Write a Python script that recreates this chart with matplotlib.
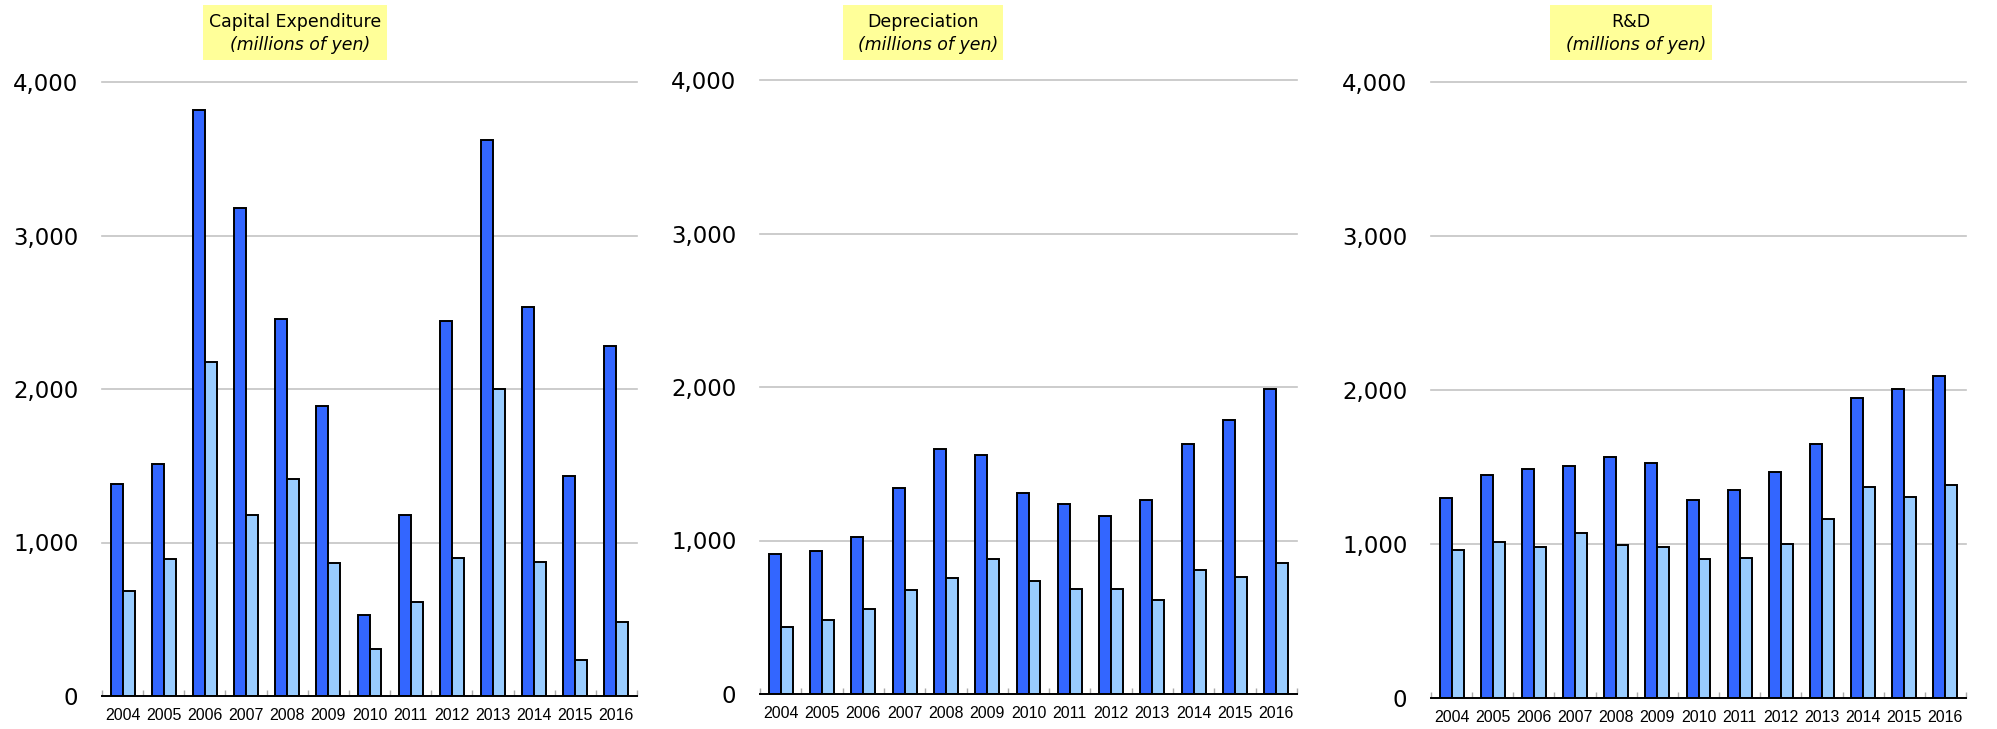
import numpy as np
import matplotlib
matplotlib.use("Agg")
import matplotlib.pyplot as plt
from matplotlib.patches import Rectangle

years = ["2004", "2005", "2006", "2007", "2008", "2009", "2010",
         "2011", "2012", "2013", "2014", "2015", "2016"]

capex_dark = [1382, 1512, 3818, 3176, 2458, 1888, 527, 1182, 2445, 3621, 2533, 1433, 2282]
capex_light = [685, 891, 2179, 1179, 1412, 864, 309, 612, 897, 2003, 873, 233, 482]

dep_dark = [914, 929, 1020, 1340, 1595, 1555, 1310, 1238, 1162, 1262, 1631, 1788, 1985]
dep_light = [439, 484, 554, 678, 753, 880, 735, 681, 687, 611, 808, 762, 856]

rd_dark = [1299, 1447, 1486, 1505, 1565, 1529, 1287, 1350, 1468, 1650, 1946, 2009, 2088]
rd_light = [958, 1015, 979, 1069, 994, 982, 900, 912, 997, 1160, 1369, 1302, 1381]

titles = ["Capital Expenditure", "Depreciation", "R&D"]
subtitle = "(millions of yen)"
yticks = [0, 1000, 2000, 3000, 4000]
ytick_labels = ["0", "1,000", "2,000", "3,000", "4,000"]

W, H = 1997, 729
fig = plt.figure(figsize=(W / 100, H / 100), dpi=100)

# axes boxes in pixels: left, right, y_top(4000), y_bottom(0)
panels = [
    (102, 637, 82, 696),
    (760, 1297, 80, 694),
    (1431, 1966, 82, 698),
]
# title boxes in pixels: x0, x1, y0, y1
boxes = [
    (203, 387, 5, 60),
    (843, 1003, 5, 60),
    (1550, 1712, 5, 60),
]
data = [(capex_dark, capex_light), (dep_dark, dep_light), (rd_dark, rd_light)]

dark_c = "#3366FF"
light_c = "#99CCFF"
x = np.arange(len(years))
bw = 0.29

for (l, r, yt, yb), (bx0, bx1, by0, by1), (d, li), t in zip(panels, boxes, data, titles):
    ax = fig.add_axes([l / W, (H - yb) / H, (r - l) / W, (yb - yt) / H])
    ax.bar(x - bw / 2, d, width=bw, color=dark_c, edgecolor="black", linewidth=1.4, zorder=3)
    ax.bar(x + bw / 2, li, width=bw, color=light_c, edgecolor="black", linewidth=1.4, zorder=3)
    ax.set_xlim(-0.5, len(years) - 0.5)
    ax.set_ylim(0, 4000)
    for v in yticks[1:]:
        ax.axhline(v, color="#c4c4c4", linewidth=1.2, zorder=1, clip_on=False)
    for s in ["top", "right", "left"]:
        ax.spines[s].set_visible(False)
    ax.spines["bottom"].set_color("black")
    ax.spines["bottom"].set_linewidth(1.4)
    ax.spines["bottom"].set_zorder(4)
    ax.set_yticks(yticks)
    ax.set_yticklabels(ytick_labels, fontsize=16.5, fontfamily="DejaVu Sans")
    ax.tick_params(axis="y", length=0, pad=17)
    ax.set_xticks(x)
    ax.set_xticklabels(years, fontsize=11.5, fontfamily="Liberation Sans")
    ax.tick_params(axis="x", which="major", length=0, pad=9)
    ax.set_xticks(np.arange(-0.5, len(years), 1.0), minor=True)
    ax.tick_params(axis="x", which="minor", direction="in", length=4, color="#aaaaaa", width=1)
    ax.set_facecolor("none")

    # title box
    fig.patches.append(Rectangle((bx0 / W, (H - by1) / H), (bx1 - bx0) / W, (by1 - by0) / H,
                                 transform=fig.transFigure, facecolor="#FFFF99",
                                 edgecolor="none", zorder=0))
    cx = (bx0 + bx1) / 2
    fig.text(cx / W, (H - 22) / H, t, ha="center", va="center", fontsize=12.5,
             fontfamily="DejaVu Sans", color="black")
    fig.text((cx + 5) / W, (H - 45) / H, subtitle, ha="center", va="center", fontsize=12.5,
             fontfamily="DejaVu Sans", fontstyle="italic", color="black")

fig.savefig("out.png", dpi=100)
